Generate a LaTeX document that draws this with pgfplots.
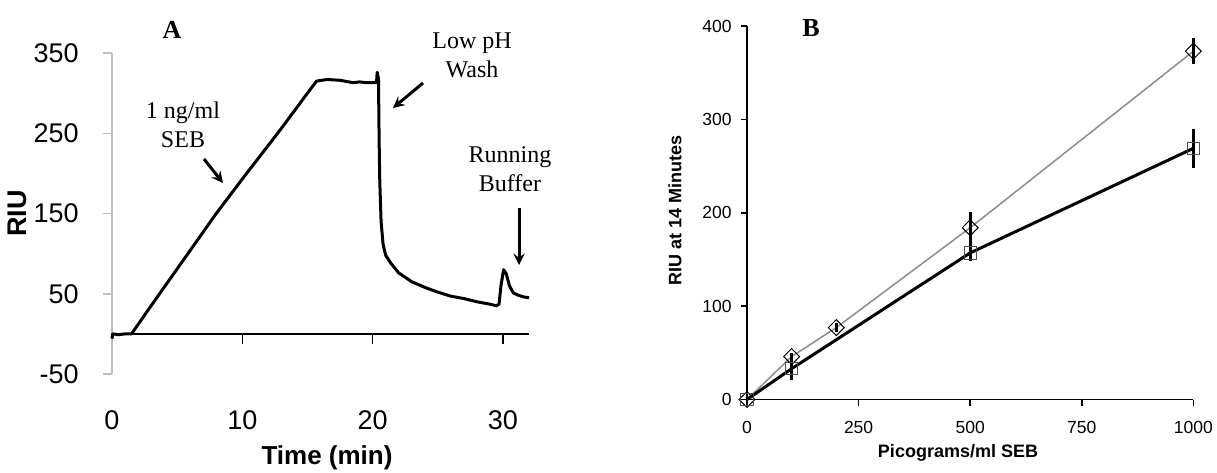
\documentclass[border=0pt]{standalone}
\usepackage{fontspec}
\setmainfont{Liberation Serif}
\setsansfont{Liberation Sans}
\usepackage{pgfplots}
\pgfplotsset{compat=1.18}
\usepackage{pgfplotstable}
\pgfplotstableread{
x y
0 -6
0.05 0
0.5 -1
1.0 0
1.5 0
3 35
5 81
8 150
10 193
12 235
12.9 254
14 278
15 300
15.7 315
16.5 317
17.5 316
18.5 313
19 314
19.5 313
20.3 313
20.35 326
20.45 318
20.5 240
20.55 190
20.65 140
20.8 112
21.0 98
21.4 88
22 76
23 65
24 58
25 52
26 47
27 44
28 40
29 37
29.5 35
29.7 37
29.85 60
30.05 80
30.25 75
30.5 60
30.8 51
31.2 48
31.6 46
32 45
}\sensorgram
\pgfplotstableread{
x y e
0 0 0
100 46 4
200 77 5
500 184 17
1000 373 14
}\diamonds
\pgfplotstableread{
x y e
0 0 0
100 33 12
500 157 9
1000 269 21
}\squares
\definecolor{lgray}{RGB}{190,190,190}
\definecolor{mgray}{RGB}{140,140,140}
\begin{document}
\begin{tikzpicture}
\useasboundingbox (0pt,0pt) rectangle (608.5pt,236pt);
% Panel A
\begin{axis}[
  at={(56pt,49pt)}, anchor=south west, scale only axis,
  width=208.5pt, height=160.5pt,
  xmin=0, xmax=32, ymin=-50, ymax=350,
  clip=false,
  axis x line=bottom, axis y line=left,
  x axis line style={draw=none},
  y axis line style={draw=lgray, line width=0.75pt, -},
  xtick={0,10,20,30}, ytick={-50,50,150,250,350},
  xtick style={draw=none},
  ytick style={draw=lgray, line width=0.75pt},
  tick align=outside, major tick length=4.5pt,
  ticklabel style={font=\sffamily\fontsize{13.5}{16}\selectfont},
  /pgf/number format/assume math mode=true,
  xticklabel style={anchor=center, yshift=-18.5pt},
  yticklabel style={anchor=east, inner sep=0pt, xshift=-12pt},
  xlabel={Time (min)}, ylabel={RIU},
  xlabel style={at={(axis description cs:0.5156,-0.26)}, anchor=center, font=\sffamily\bfseries\fontsize{13}{15}\selectfont},
  ylabel style={at={(axis description cs:-0.226,0.5)}, anchor=center, font=\sffamily\bfseries\fontsize{13.5}{15}\selectfont},
]
\draw[black, line width=0.75pt] (axis cs:0,0) -- (axis cs:32,0);
\pgfplotsinvokeforeach{10,20,30}{\draw[black, line width=0.75pt] (axis cs:#1,0) -- (axis cs:#1,-12);}
\addplot[black, line width=1.5pt, line join=round] table[x=x,y=y] {\sensorgram};
\end{axis}
% Panel B
\begin{axis}[
  at={(373.5pt,36.25pt)}, anchor=south west, scale only axis,
  width=223.2pt, height=186.75pt,
  xmin=0, xmax=1000, ymin=0, ymax=400,
  clip=false,
  axis x line=bottom, axis y line=left,
  axis line style={black, line width=0.75pt, -},
  xtick={0,250,500,750,1000}, ytick={0,100,200,300,400},
  tick style={black, line width=0.75pt},
  tick align=outside, major tick length=3pt,
  ticklabel style={font=\sffamily\fontsize{8.75}{10}\selectfont},
  /pgf/number format/assume math mode=true,
  /pgf/number format/1000 sep={},
  xticklabel style={anchor=center, yshift=-11pt},
  yticklabel style={anchor=east, inner sep=0pt, xshift=-4.5pt},
  xlabel={Picograms/ml SEB}, ylabel={RIU at 14 Minutes},
  xlabel style={at={(axis description cs:0.4727,-0.1432)}, anchor=center, font=\sffamily\bfseries\fontsize{9}{11}\selectfont},
  ylabel style={at={(axis description cs:-0.1613,0.507)}, anchor=center, font=\sffamily\bfseries\fontsize{9}{11}\selectfont},
]
\addplot[mgray, line width=0.75pt, mark=square, mark size=2.8pt,
  mark options={rotate=45, draw=black, fill=white, line width=0.5pt}] table[x=x,y=y] {\diamonds};
\addplot[black, line width=1.5pt, mark=square, mark size=3.1pt,
  mark options={draw=black!70, fill=white, line width=0.5pt}] table[x=x,y=y] {\squares};
\addplot[draw=none, no marks, forget plot, error bars/.cd, y dir=both, y explicit,
  error mark=none, error bar style={draw=black, line width=1.5pt}] table[x=x,y=y,y error=e] {\diamonds};
\addplot[draw=none, no marks, forget plot, error bars/.cd, y dir=both, y explicit,
  error mark=none, error bar style={draw=black, line width=1.5pt}] table[x=x,y=y,y error=e] {\squares};
\end{axis}
% titles and annotations
\begin{scope}[x=0.5pt,y=0.5pt]
\node[font=\bfseries\fontsize{13}{15}\selectfont] at (172,442) {A};
\node[font=\bfseries\fontsize{13}{15}\selectfont] at (811,444) {B};
\node[align=center, font=\fontsize{12}{14.5}\selectfont] at (183,347) {1 ng/ml\\SEB};
\node[align=center, font=\fontsize{12}{14.5}\selectfont] at (472,416.5) {Low pH\\Wash};
\node[align=center, font=\fontsize{12}{14.5}\selectfont] at (510,303) {Running\\Buffer};
\draw[line width=1.5pt, -stealth] (204,313) -- (223,289);
\draw[line width=1.5pt, -stealth] (423,389) -- (393,364);
\draw[line width=1.5pt, -stealth] (519,264) -- (519,207);
\end{scope}
\end{tikzpicture}
\end{document}
